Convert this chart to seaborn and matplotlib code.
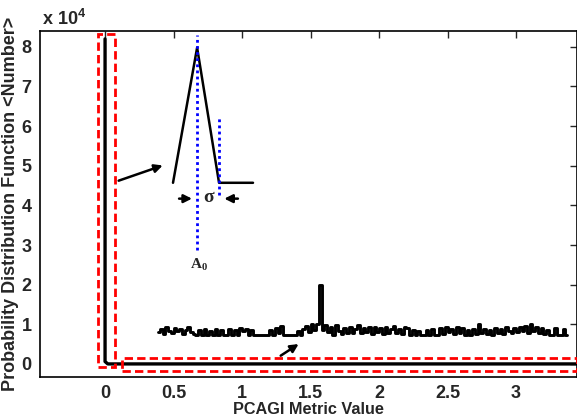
import numpy as np
import pandas as pd
import seaborn as sns
import matplotlib
matplotlib.use("Agg")
import matplotlib.pyplot as plt
from matplotlib.patches import Rectangle
from matplotlib import font_manager as fm

# ---- data ----
# main PDF: delta-like peak at 0 then flat zero
pdf_x = [0.0, 0.0, 0.02, 3.6]
pdf_y = [82000, 600, 0, 0]

# magnified sketch of the peak (inset, drawn in data coordinates)
inset_x = [0.496, 0.672, 0.832, 1.08]
inset_y = [45700, 79800, 45700, 45700]

# noisy tail (shown offset / magnified), values in units of 1e4
noise_start = 0.39
noise_step = 0.02
noise_1e4 = [
    0.80, 0.88, 0.76, 0.92, 0.84, 0.78, 0.90, 0.82, 0.88, 0.76, 0.86, 0.92, 0.80, 0.76,
    0.73, 0.86, 0.73, 0.88, 0.73, 0.84, 0.73, 0.88, 0.73, 0.86, 0.73, 0.73, 0.88, 0.73, 0.86, 0.73, 0.90, 0.82, 0.88, 0.73, 0.86,
    0.73, 0.73, 0.73, 0.73, 0.73, 0.73,
    0.86, 0.73, 0.90, 0.78, 0.96,
    0.73, 0.73, 0.73, 0.73, 0.73, 0.82, 0.73,
    0.88, 0.96, 0.80, 1.00, 0.86, 1.00,
    2.00,
    0.86, 0.98, 0.80, 0.92, 0.73, 0.98, 0.82, 0.76, 0.90, 0.78, 0.94, 0.78, 0.88, 0.98, 0.78, 0.90, 0.80, 0.94, 0.76, 0.92, 0.80,
    0.90, 0.76, 0.94, 0.78, 0.88, 0.96, 0.78, 0.88, 0.76, 0.94, 0.90, 0.73, 0.86, 0.73, 0.84, 0.73, 0.73, 0.86, 0.73, 0.88, 0.73, 0.73, 0.90, 0.76, 0.92,
    0.80, 0.88, 0.76, 0.92, 0.78, 0.90, 0.73, 0.86, 0.73, 0.88, 0.76, 1.02, 0.78, 0.88, 0.76, 0.86, 0.73, 0.90, 0.78, 0.88, 0.76, 0.92, 0.82, 0.78, 0.90,
    0.80, 0.92, 0.82, 0.96, 0.78, 1.00, 0.84, 0.94, 0.78, 0.90, 0.76, 0.86, 0.73, 0.73, 0.90, 0.73, 0.73, 0.88, 0.73,
]
noise_x = [round(noise_start + i * noise_step, 3) for i in range(len(noise_1e4))]
noise_y = [v * 1e4 for v in noise_1e4]

x_ticks = [0, 0.5, 1, 1.5, 2, 2.5, 3]
x_tick_labels = ["0", "0.5", "1", "1.5", "2", "2.5", "3"]
y_ticks = [0, 10000, 20000, 30000, 40000, 50000, 60000, 70000, 80000]
y_tick_labels = ["0", "1", "2", "3", "4", "5", "6", "7", "8"]

# ---- figure ----
sns.set_style("white")


def pick_bold(cands):
    for f in cands:
        try:
            p = fm.findfont(fm.FontProperties(family=f, weight="bold"), fallback_to_default=False)
            if "bold" in p.lower():
                return f
        except Exception:
            pass
    return "DejaVu Sans"


FAM = pick_bold(["Liberation Sans", "Arimo", "Roboto", "Open Sans", "Lato", "Noto Sans", "Inter"])
SERIF = pick_bold(["Liberation Serif", "DejaVu Serif"])
plt.rcParams['font.family'] = [FAM, 'DejaVu Sans']
plt.rcParams['font.weight'] = 'bold'
plt.rcParams['mathtext.fontset'] = 'custom'
plt.rcParams['mathtext.rm'] = FAM + ':bold'
plt.rcParams['mathtext.bf'] = SERIF + ':bold'

fig = plt.figure(figsize=(5.77, 4.17), dpi=100)
ax = fig.add_axes([0.0693, 0.0959, 0.9307, 0.8298])

df_pdf = pd.DataFrame({"x": pdf_x, "y": pdf_y})
sns.lineplot(data=df_pdf, x="x", y="y", sort=False, color="black", lw=2.4, ax=ax, estimator=None)

df_in = pd.DataFrame({"x": inset_x, "y": inset_y})
sns.lineplot(data=df_in, x="x", y="y", sort=False, color="black", lw=1.8, ax=ax, estimator=None)

df_n = pd.DataFrame({"x": noise_x, "y": noise_y})
sns.lineplot(data=df_n, x="x", y="y", sort=False, color="black", lw=2.1, ax=ax,
             estimator=None, drawstyle="steps-mid")

# blue dotted guide lines
ax.plot([0.672, 0.672], [28800, 83100], color="blue", ls=(0, (1, 1.2)), lw=2)
ax.plot([0.832, 0.832], [42700, 62100], color="blue", ls=(0, (1, 1.2)), lw=2)

# sigma arrows
ap = dict(arrowstyle="-|>", color="black", lw=1.8, mutation_scale=12)
ax.annotate("", xy=(0.655, 41700), xytext=(0.52, 41700), arrowprops=ap)
ax.annotate("", xy=(0.85, 41700), xytext=(0.99, 41700), arrowprops=ap)
ax.text(0.752, 41900, "σ", ha="center", va="center", fontsize=14,
        family=[SERIF, "DejaVu Serif"], fontweight="bold")
ax.text(0.622, 27000, r"$\mathbf{A_0}$", ha="left", va="top", fontsize=11)

# pointer arrows
ax.annotate("", xy=(0.44, 50300), xytext=(0.08, 46000), arrowprops=ap)
ax.annotate("", xy=(1.43, 5400), xytext=(1.265, 1700), arrowprops=ap)

# red dashed rectangles
ax.add_patch(Rectangle((-0.053, -900), 0.126, 84200, fill=False, ec="red",
                       ls=(0, (3, 1.5)), lw=2, zorder=5))
ax.add_patch(Rectangle((0.122, -1900), 3.32, 3340, fill=False, ec="red",
                       ls=(0, (3, 1.5)), lw=2, zorder=5))

ax.set_xlim(-0.475, 3.445)
ax.set_ylim(-3300, 84000)
ax.set_xticks(x_ticks)
ax.set_xticklabels(x_tick_labels, fontsize=13, fontweight="bold")
ax.set_yticks(y_ticks)
ax.set_yticklabels(y_tick_labels, fontsize=13, fontweight="bold")
ax.tick_params(direction="in", length=5, width=1, top=True, right=True, pad=6)
for s in ax.spines.values():
    s.set_linewidth(1.2)
    s.set_color("black")

ax.set_xlabel("PCAGI Metric Value", fontsize=11.7, fontweight="bold", labelpad=0)
ax.set_ylabel("Probability Distribution Function <Number>", fontsize=13, fontweight="bold", labelpad=2)
fig.text(0.073, 0.955, r"x 10$^{4}$", fontsize=13, fontweight="bold", ha="left", va="center")

fig.savefig("out.png", dpi=100)
